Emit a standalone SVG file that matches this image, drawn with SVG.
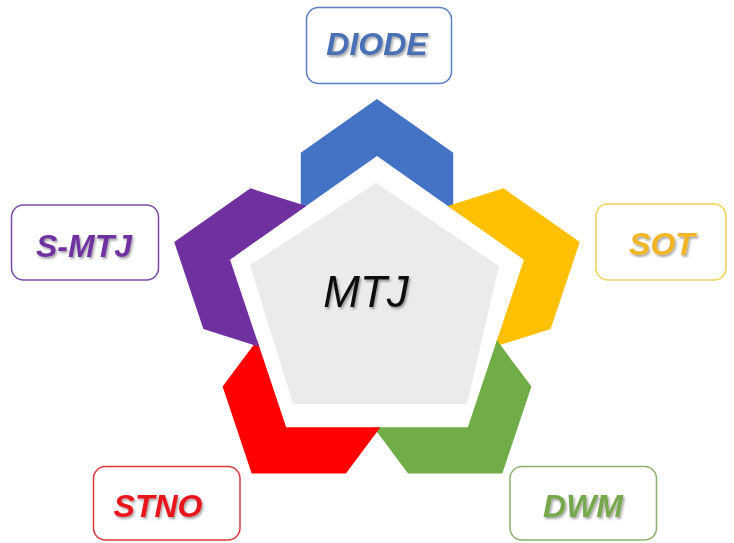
<svg xmlns="http://www.w3.org/2000/svg" width="734" height="543" viewBox="0 0 734 543">
  <defs>
    <filter id="sh" x="-20%" y="-30%" width="140%" height="160%">
      <feDropShadow dx="1.5" dy="2" stdDeviation="1.2" flood-color="#000" flood-opacity="0.35"/>
    </filter>
    <path id="chev" d="M0,-207 L74,-153.2 L74,-96.2 L0,-150 L-74,-96.2 L-74,-153.2 Z"/>
  </defs>
  <style>
    .box { fill: #ffffff; stroke-width: 1.5; }
    .lbl { font-family: "Liberation Sans", Arial, sans-serif; font-weight: bold; font-style: italic; font-size: 32px; text-anchor: middle; filter: url(#sh); }
  </style>
  <rect width="734" height="543" fill="#ffffff"/>

  <g id="petals">
    <use href="#chev" fill="#4472C4" transform="translate(377,306) scale(1.03,1) rotate(0)"/>
    <use href="#chev" fill="#FFC000" transform="translate(377,306) scale(1.03,1) rotate(72)"/>
    <use href="#chev" fill="#70AD47" transform="translate(377,306) scale(1.03,1) rotate(144)"/>
    <use href="#chev" fill="#FF0000" transform="translate(377,306) scale(1.03,1) rotate(216)"/>
    <use href="#chev" fill="#7030A0" transform="translate(377,306) scale(1.03,1) rotate(288)"/>
  </g>

  <g id="mtj">
    <polygon points="376,183 499,266 467,404 293,404 250,265" fill="#EBEBEB"/>
    <text x="366" y="307" font-family="'Liberation Sans', Arial, sans-serif" font-style="italic" font-size="44" fill="#111111" text-anchor="middle" filter="url(#sh)">MTJ</text>
  </g>

  <g id="diode">
    <rect class="box" x="306.5" y="7.5" width="145" height="76" rx="12" stroke="#5B7EC2"/>
    <text class="lbl" x="377" y="55" fill="#4A6FB5">DIODE</text>
  </g>
  <g id="s-mtj">
    <rect class="box" x="11.5" y="205" width="147" height="75" rx="12" stroke="#7E4AA8"/>
    <text class="lbl" x="84" y="257" fill="#7030A0">S-MTJ</text>
  </g>
  <g id="sot">
    <rect class="box" x="596" y="204" width="130" height="76" rx="12" stroke="#F2D15A"/>
    <text class="lbl" x="662" y="255" fill="#F2B526">SOT</text>
  </g>
  <g id="stno">
    <rect class="box" x="93.5" y="466.5" width="146.5" height="73.5" rx="12" stroke="#D9393B"/>
    <text class="lbl" x="158" y="517" fill="#E8141A">STNO</text>
  </g>
  <g id="dwm">
    <rect class="box" x="510" y="466.5" width="146.5" height="73.5" rx="12" stroke="#8DB06E"/>
    <text class="lbl" x="583" y="517" fill="#78A84E">DWM</text>
  </g>
</svg>
